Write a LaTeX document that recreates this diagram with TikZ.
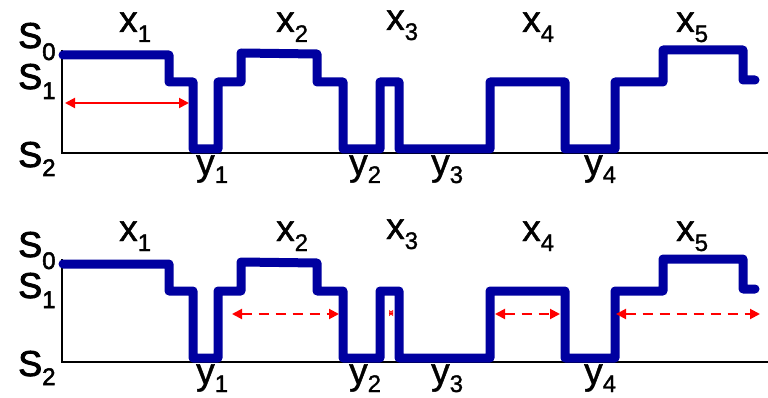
\documentclass[tikz,border=0pt]{standalone}
\usepackage{fontspec}
\setmainfont{Liberation Sans}
\newfontfamily\heavy{Liberation Sans}[FakeBold=1.2]
\newfontfamily\heavier{Liberation Sans}[FakeBold=2.2]
\usetikzlibrary{arrows.meta}
\definecolor{sigblue}{RGB}{0,0,160}
% label with lowered index
\newcommand{\lvl}[3][10pt]{#2\raisebox{-#1}{\fontsize{24}{24}\selectfont #3}}

\begin{document}
\begin{tikzpicture}[x=1pt, y=-1pt,
  sig/.style={draw=sigblue, line width=9pt, line join=round, line cap=round},
  ax/.style={draw=black, line width=2.5pt},
  st/.style={anchor=base west, inner sep=0pt, font=\heavier\fontsize{36}{36}\selectfont},
  sym/.style={anchor=base west, inner sep=0pt, font=\heavy\fontsize{37}{37}\selectfont},
  span/.style={draw=red, line width=2pt, {Triangle[length=10pt,width=10pt]}-{Triangle[length=10pt,width=10pt]}},
  gap/.style={span, dash pattern=on 10pt off 7pt},
  nil/.style={draw=red, line width=0.6pt, {Triangle[open,length=4pt,width=6pt]}-{Triangle[open,length=4pt,width=6pt]}}
]
\useasboundingbox (0,0) rectangle (768,398);
\foreach \p/\dy in {t/0, b/209} {
\begin{scope}[yshift=-\dy pt]
% states
\node[st] (\p-s0) at (18,48) {\lvl[12pt]{S}{0}};
\node[st] (\p-s1) at (18,89) {\lvl{S}{1}};
\node[st] (\p-s2) at (18,167) {\lvl[9pt]{S}{2}};
% axes
\coordinate (\p-top) at (62,50);
\coordinate (\p-org) at (62,153);
\coordinate (\p-end) at (768,153);
\draw[ax] (\p-top) -- (\p-org) -- (\p-end);
% symbols
\node[sym] (\p-x1) at (119,32) {\lvl{x}{1}};
\node[sym] (\p-x2) at (276,32) {\lvl{x}{2}};
\node[sym] (\p-x3) at (386,30) {\lvl{x}{3}};
\node[sym] (\p-x4) at (522,32) {\lvl{x}{4}};
\node[sym] (\p-x5) at (676,32) {\lvl{x}{5}};
\node[sym] (\p-y1) at (196,175) {\lvl[8pt]{y}{1}};
\node[sym] (\p-y2) at (349,175) {\lvl[8pt]{y}{2}};
\node[sym] (\p-y3) at (431,175) {\lvl[8pt]{y}{3}};
\node[sym] (\p-y4) at (584,175) {\lvl[8pt]{y}{4}};
% signal
\draw[sig] (63,55) -- (169,55) -- (169,82) -- (193,82) -- (193,149) -- (218,149)
  -- (218,82) -- (241,82) -- (241,53) -- (317,54) -- (317,82) -- (343,82)
  -- (343,149) -- (380,149) -- (380,82) -- (399,82) -- (399,149) -- (490,149)
  -- (490,82) -- (565,82) -- (565,149) -- (615,149) -- (615,82) -- (663,82)
  -- (663,50) -- (743,50) -- (743,80) -- (755,80);
\end{scope}
}
% run lengths
\coordinate (ra) at (65,103);
\coordinate (rb) at (189,103);
\draw[span] (ra) -- (rb);
\coordinate (g1a) at (232,314);
\coordinate (g1b) at (339,314);
\coordinate (g2a) at (389,313);
\coordinate (g2b) at (393,313);
\coordinate (g3a) at (495,314);
\coordinate (g3b) at (560,314);
\coordinate (g4a) at (616,314);
\coordinate (g4b) at (760,314);
\draw[gap] (g1a) -- (g1b);
\draw[nil] (g2a) -- (g2b);
\draw[gap] (g3a) -- (g3b);
\draw[gap] (g4a) -- (g4b);
\end{tikzpicture}
\end{document}
